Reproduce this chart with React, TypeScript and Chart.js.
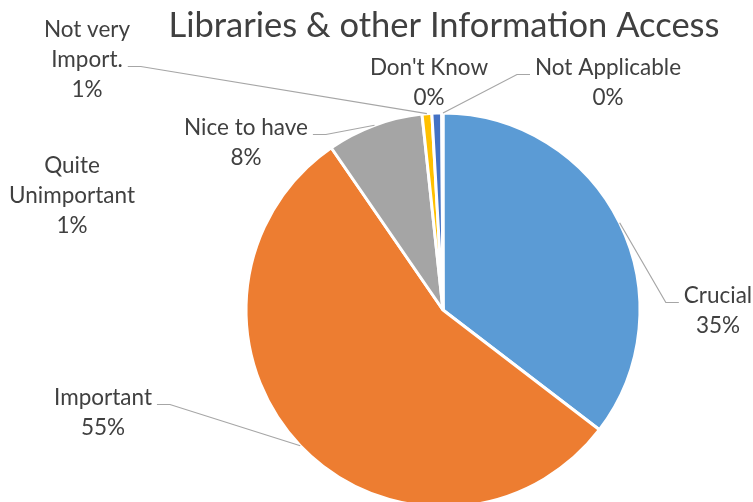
import React, { useEffect, useRef } from "react";
import { Chart, registerables } from "chart.js";

Chart.register(...registerables);

const title = "Libraries & other Information Access";
const categories = [
  "Crucial",
  "Important",
  "Nice to have",
  "Not very Import.",
  "Quite Unimportant",
  "Don't Know",
  "Not Applicable",
];
const values = [35.4, 55.0, 7.9, 0.8, 0.8, 0.1, 0.0];
const colors = ["#5B9BD5", "#ED7D31", "#A5A5A5", "#FFC000", "#4472C4", "#70AD47", "#264478"];
const labelLines = [
  ["Crucial"],
  ["Important"],
  ["Nice to have"],
  ["Not very", "Import."],
  ["Quite", "Unimportant"],
  ["Don't Know"],
  ["Not Applicable"],
];

// label placement relative to pie centre: centre-x offset, first-baseline offset, leader side, line the leader attaches to
const labelLayout = [
  { dx: 275, dy: -7, side: "left", attach: 0 },
  { dx: -340, dy: 95, side: "right", attach: 0 },
  { dx: -197, dy: -175, side: "right", attach: 0 },
  { dx: -356, dy: -273, side: "right", attach: 1 },
  { dx: -371, dy: -137, side: null, attach: 0 },
  { dx: -14, dy: -235, side: null, attach: 0 },
  { dx: 165, dy: -235, side: "left", attach: 0 },
];

const LABEL_FONT = "22.5px Lato, 'Open Sans', sans-serif";
const TITLE_FONT = "34.5px Lato, 'Open Sans', sans-serif";
const LINE_H = 30;

const labelPlugin = {
  id: "excelLabels",
  afterDraw(chart: any) {
    const ctx = chart.ctx as CanvasRenderingContext2D;
    const meta = chart.getDatasetMeta(0);
    const arcs = meta.data;
    if (!arcs.length) return;
    const cx = arcs[0].x;
    const cy = arcs[0].y;
    const total = values.reduce((a, b) => a + b, 0);

    ctx.save();
    // title
    ctx.font = TITLE_FONT;
    ctx.fillStyle = "#404040";
    ctx.textAlign = "center";
    ctx.textBaseline = "alphabetic";
    ctx.fillText(title, cx + 1, 37);

    ctx.font = LABEL_FONT;
    arcs.forEach((arc: any, i: number) => {
      const lay = labelLayout[i];
      const lines = [...labelLines[i], Math.round((values[i] / total) * 100) + "%"];
      const tx = cx + lay.dx;
      const ty = cy + lay.dy;
      ctx.fillStyle = "#404040";
      ctx.textAlign = "center";
      lines.forEach((ln, k) => ctx.fillText(ln, tx, ty + k * LINE_H));

      if (lay.side) {
        const w = ctx.measureText(lines[lay.attach]).width;
        const ly = Math.round(ty + lay.attach * LINE_H - 1) + 0.5;
        const dir = lay.side === "left" ? -1 : 1;
        const x0 = tx + dir * (w / 2 + 5);
        const x1 = x0 + dir * 13;
        const { startAngle, endAngle, outerRadius } = arc.getProps(
          ["startAngle", "endAngle", "outerRadius"],
          true
        );
        const mid = (startAngle + endAngle) / 2;
        const px = cx + Math.cos(mid) * outerRadius;
        const py = cy + Math.sin(mid) * outerRadius;
        ctx.strokeStyle = "#A6A6A6";
        ctx.lineWidth = 1.2;
        ctx.beginPath();
        ctx.moveTo(x0, ly);
        ctx.lineTo(x1, ly);
        ctx.lineTo(px, py);
        ctx.stroke();
      }
    });
    ctx.restore();
  },
};

export default function App() {
  const ref = useRef<HTMLCanvasElement | null>(null);
  useEffect(() => {
    if (!ref.current) return;
    const chart = new Chart(ref.current, {
      type: "pie",
      data: {
        labels: categories,
        datasets: [
          {
            data: values,
            backgroundColor: colors,
            borderColor: "#FFFFFF",
            borderWidth: 3,
            hoverOffset: 0,
          },
        ],
      },
      options: {
        responsive: false,
        animation: false,
        devicePixelRatio: 1,
        radius: 197,
        layout: { padding: { left: 246, right: 113, top: 113, bottom: 13 } },
        plugins: {
          legend: { display: false },
          title: { display: false },
          tooltip: { enabled: false },
        },
        events: [],
      } as any,
      plugins: [labelPlugin],
    });
    return () => chart.destroy();
  }, []);
  return (
    <div
      style={{
        position: "absolute",
        left: 0,
        top: 0,
        width: 753,
        height: 502,
        overflow: "hidden",
        background: "#fff",
      }}
    >
      <canvas ref={ref} width={753} height={520} style={{ width: 753, height: 520, display: "block" }} />
    </div>
  );
}
